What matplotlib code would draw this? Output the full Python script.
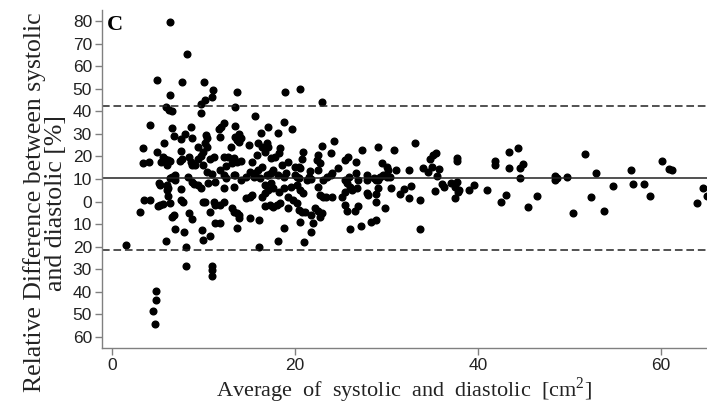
import matplotlib.pyplot as plt
import numpy as np

# Average of systolic and diastolic [cm^2] and relative difference [%]
avg = [
    6.4, 8.2, 4.9, 7.7, 10.1, 6.4, 5.9, 6.2, 6.6, 9.7, 9.7, 4.2, 6.6, 8.6, 6.8, 7.5, 8.0, 8.8,
    3.4, 5.7, 4.9, 7.6, 9.4, 3.4, 4.1, 5.6, 5.8, 5.4, 6.1, 6.0, 6.4, 7.4, 7.7, 8.4, 8.6, 8.8,
    9.1, 9.4, 9.7, 10.0,
    6.3, 6.6, 6.9, 6.9, 8.3, 5.2, 5.3, 6.0, 6.1, 6.0, 7.6, 8.8, 9.0, 9.4, 9.7, 3.5, 4.2, 6.1,
    5.0, 5.3, 5.6, 6.3, 7.6, 7.8, 9.9, 3.1, 6.8, 6.6, 8.4, 8.7, 6.9, 7.9, 9.8, 1.5, 5.9, 8.1,
    10.0, 8.1, 4.8, 4.8, 4.5, 4.7,
    11.0, 10.2, 10.9, 13.7, 13.5, 18.9, 20.6, 15.6, 12.2, 11.9, 11.7, 11.8, 13.5, 13.4, 13.7,
    13.9, 14.1, 13.9, 10.3, 10.4, 10.2, 10.4, 13.0, 15.0, 16.3, 17.1, 18.1, 18.8, 19.7, 16.0,
    16.4, 16.9, 17.1, 16.7, 15.8, 15.3, 18.4, 18.2, 17.8, 17.4, 20.9, 20.8, 19.2, 20.0, 20.4,
    11.1, 10.7, 10.0, 12.2, 12.7, 13.3, 13.7, 14.1, 13.1, 12.5, 11.8, 16.4, 16.0, 17.6, 18.6,
    20.6, 13.5, 15.5, 18.8, 20.2, 17.1, 15.6,
    10.9, 10.4, 12.2, 12.5, 13.3, 14.1, 14.7, 15.1, 15.6, 16.2, 16.9, 17.4, 18.1, 19.0, 20.0,
    20.4, 10.5, 11.3, 12.3, 13.3, 16.7, 17.4, 17.6, 17.1, 18.2, 18.8, 19.6, 20.2, 20.6, 20.9,
    10.2, 11.1, 11.3, 12.2, 11.8, 10.7, 13.1, 13.3, 13.7, 13.9, 13.9, 14.7, 15.1, 15.3, 16.4,
    16.7, 16.7, 17.3, 17.6, 18.0, 18.4, 19.2, 19.2, 19.8, 20.2, 20.4, 20.8, 21.1, 15.1, 16.1,
    11.3, 11.8, 13.7, 10.7, 18.8, 20.6, 18.1, 21.0, 16.1, 10.9, 10.9, 10.9,
    22.9, 24.3, 23.0, 23.9, 22.5, 22.4, 22.7, 22.5, 24.7, 25.5, 25.8, 27.3, 26.7, 29.1, 30.8,
    29.5, 30.0, 30.2, 31.0, 33.1, 32.4, 21.6, 21.5, 21.8, 21.3, 23.5, 23.9, 24.0, 23.1, 25.9,
    25.5, 25.7, 26.0, 25.5, 26.2, 26.7, 26.9, 26.8, 27.9, 27.9, 27.9, 28.0, 28.6, 28.9, 29.1,
    29.3, 29.6, 30.0, 30.4, 29.1, 28.8, 28.9, 30.5, 29.8, 31.5, 31.9, 32.7, 32.5, 22.5, 22.7,
    23.1, 23.4, 24.0, 25.1, 25.5, 25.7, 26.5, 26.9, 22.2, 22.5, 22.9, 21.8, 22.7, 22.0, 21.8,
    26.0, 27.2, 28.3, 28.9, 33.7, 33.7,
    34.0, 34.5, 35.0, 35.7, 35.5, 34.7, 35.1, 35.4, 35.3, 36.1, 36.3, 37.0, 37.7, 37.5, 37.9,
    37.5, 37.8, 37.7, 37.7, 39.0, 39.6, 41.0, 41.8, 41.8, 43.0, 42.5, 43.4, 44.4, 43.4, 44.6,
    44.9, 44.6, 45.4, 46.4, 48.4, 48.6, 48.4,
    49.7, 51.7, 52.9, 50.4, 52.3, 53.7, 54.7, 56.7, 56.9, 58.1, 58.8, 60.1, 60.9, 61.2, 63.9,
    64.6, 65.0,
]
diff = [
    79.7, 65.7, 54.0, 53.0, 53.0, 47.5, 41.8, 40.5, 40.0, 43.1, 39.4, 33.8, 32.6, 33.1, 29.1,
    27.9, 29.8, 28.2, 23.8, 26.1, 22.1, 22.3, 24.0, 17.3, 17.7, 19.9, 18.9, 17.7, 18.4, 16.2,
    18.1, 18.1, 18.7, 19.9, 17.7, 16.2, 16.2, 18.7, 20.2, 22.1,
    10.3, 11.0, 11.8, 9.6, 10.8, 8.4, 7.4, 7.2, 6.2, 5.1, 5.4, 8.8, 7.8, 7.4, 5.9, 0.7, 0.6,
    2.5, -2.2, -1.7, -1.1, -0.8, 0.7, -0.3, 0.0, -4.5, -5.9, -7.0, -5.2, -7.9, -12.3, -13.5,
    -12.6, -19.2, -17.6, -20.1, -17.2, -28.7, -39.9, -43.9, -48.5, -54.4,
    49.7, 45.3, 46.2, 48.7, 41.8, 48.7, 50.0, 38.2, 34.7, 33.2, 32.0, 28.5, 33.5, 28.8, 27.3,
    30.0, 28.0, 26.6, 29.5, 28.0, 25.8, 24.3, 24.0, 25.1, 30.3, 33.2, 30.5, 35.4, 32.3, 25.8,
    24.0, 26.1, 24.0, 22.1, 20.5, 17.7, 23.6, 21.4, 19.9, 19.2, 22.1, 18.7, 17.7, 15.5, 15.5,
    19.9, 18.7, 16.2, 19.9, 19.9, 19.2, 17.7, 18.1, 17.0, 15.8, 14.0, 15.5, 14.0, 14.0, 16.2,
    14.7, 11.8, 11.1, 11.1, 11.1, 11.8, 12.5,
    12.2, 13.3, 11.8, 10.3, 11.8, 9.6, 11.0, 13.3, 11.8, 10.3, 11.8, 12.8, 11.8, 12.8, 11.8,
    10.3, 8.1, 8.8, 5.9, 6.6, 7.4, 8.1, 5.9, 5.1, 4.4, 5.9, 6.6, 7.4, 5.1, 3.7,
    0.0, 0.0, -1.5, 0.0, -1.5, -4.5, -3.0, -4.5, -5.2, -7.4, -5.9, 1.4, 2.2, 2.9, 2.2,
    3.7, -2.2, -1.5, -2.5, -1.5, -0.8, -3.0, 2.2, 0.7, -0.8, -3.7, -4.5, -4.5, -7.4, -8.2,
    -9.6, -9.6, -11.8, -15.2, -11.7, -9.2, -17.5, -17.9, -20.3, -28.5, -30.3, -33.0,
    44.0, 26.9, 24.8, 21.7, 20.7, 18.5, 17.0, 14.0, 14.8, 18.5, 19.6, 22.7, 17.7, 24.1, 22.7,
    17.3, 15.2, 14.0, 14.0, 26.1, 14.0, 13.7, 11.1, 9.9, 9.6, 11.1, 11.8, 12.5, 9.6, 11.1,
    9.6, 8.1, 6.6, 4.4, 5.2, 12.5, 9.6, 5.9, 11.8, 9.6, 3.7, 3.0, 10.3, 9.6, 9.6,
    11.1, 11.8, 11.1, 11.1, 5.9, 3.4, -0.4, 5.9, -2.7, 3.2, 5.5, 7.1, 1.5, 6.3, 3.0,
    2.2, 2.2, 2.2, 1.9, -1.5, -4.1, -4.0, -2.2, -2.7, -4.1, -5.2, -5.9, -6.7, -9.6, -13.7,
    -12.3, -10.8, -8.9, -8.4, 0.7, -12.1,
    14.8, 13.3, 15.5, 14.5, 11.4, 18.9, 20.7, 21.4, 4.7, 7.8, 6.6, 8.1, 8.6, 6.3, 5.2,
    1.5, 4.4, 19.5, 17.9, 5.2, 7.4, 5.0, 18.0, 16.2, 2.9, 0.0, 22.0, 23.6, 15.1, 14.8,
    16.5, 10.3, -2.5, 2.5, 11.5, 10.6, 9.6,
    10.8, 21.0, 12.6, -5.3, 2.1, -4.4, 7.1, 13.9, 7.7, 7.8, 2.4, 17.9, 14.3, 13.9, -0.7,
    5.8, 2.5,
]

mean_diff = 10.6
upper_loa = 42.5
lower_loa = -21.4

yticks = list(range(-60, 81, 10))
ytick_labels = [str(abs(v)) for v in yticks]
xticks = [0, 20, 40, 60]

plt.rcParams['mathtext.fontset'] = 'custom'
plt.rcParams['mathtext.rm'] = 'Liberation Serif'

fig = plt.figure(figsize=(7.07, 4.05), dpi=100)
ax = fig.add_axes([0.144, 0.141, 0.856, 0.834])

ax.plot(avg, diff, 'o', color='black', markersize=4.8)

ax.axhline(mean_diff, color='#222222', lw=1.1)
ax.axhline(upper_loa, color='#222222', lw=1.1, dashes=(5, 2.5))
ax.axhline(lower_loa, color='#222222', lw=1.1, dashes=(5, 2.5))

ax.set_xlim(-1.1, 65.0)
ax.set_ylim(-65, 85)

for s in ['top', 'right']:
    ax.spines[s].set_visible(False)
for s in ['left', 'bottom']:
    ax.spines[s].set_color('#808080')
    ax.spines[s].set_linewidth(1.0)

ax.set_yticks(yticks)
ax.set_yticklabels(ytick_labels)
ax.set_xticks(xticks)
ax.tick_params(axis='both', colors='#808080', length=5, width=1, labelcolor='#222222',
               labelsize=12.5, pad=2)
for lab in ax.get_xticklabels() + ax.get_yticklabels():
    lab.set_family('Liberation Sans')

ax.set_ylabel('Relative Difference between systolic\nand diastolic [%]',
              family='Liberation Serif', fontsize=18.5, color='#222222',
              linespacing=0.95)
ax.yaxis.set_label_coords(-0.058, 0.43)
ax.set_xlabel('Average  of  systolic  and  diastolic  [cm$^2$]',
              family='Liberation Serif', fontsize=16, color='#222222', labelpad=2)

ax.text(0.008, 0.985, 'C', transform=ax.transAxes, ha='left', va='top',
        family='Liberation Serif', fontsize=16, fontweight='bold')

fig.savefig('out.png', dpi=100)
